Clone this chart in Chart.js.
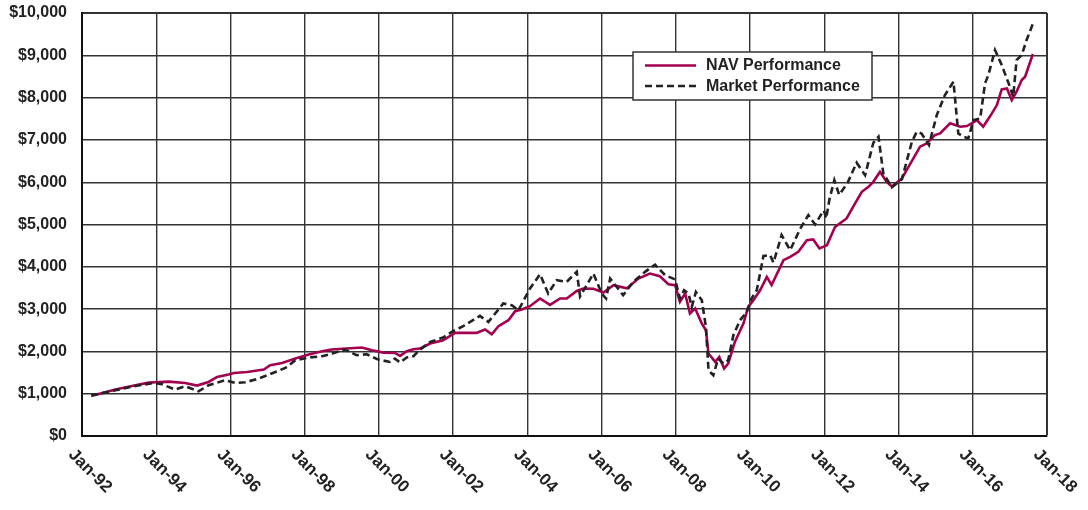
<!DOCTYPE html>
<html>
<head>
<meta charset="utf-8">
<script src="https://cdn.jsdelivr.net/npm/chart.js@4"></script>
<style>
  html, body { margin: 0; padding: 0; background: #fff; }
  canvas { display: block; }
</style>
</head>
<body>
<canvas id="c" width="1088" height="510"></canvas>
<script>
// ---- Data ----
const xTickYears = [1992,1994,1996,1998,2000,2002,2004,2006,2008,2010,2012,2014,2016,2018];
const xTickLabels = ['Jan-92','Jan-94','Jan-96','Jan-98','Jan-00','Jan-02','Jan-04','Jan-06','Jan-08','Jan-10','Jan-12','Jan-14','Jan-16','Jan-18'];
const yTickLabels = ['$0','$1,000','$2,000','$3,000','$4,000','$5,000','$6,000','$7,000','$8,000','$9,000','$10,000'];

const navDates = [1992.25,1992.90,1993.44,1993.80,1994.08,1994.34,1994.78,1995.10,1995.41,1995.64,
  1995.95,1996.09,1996.45,1996.90,1997.07,1997.39,1997.75,1998.11,1998.47,1998.72,
  1999.13,1999.54,1999.81,2000.12,2000.43,2000.57,2000.75,2000.93,2001.11,2001.38,
  2001.73,2002.05,2002.63,2002.86,2003.04,2003.22,2003.49,2003.67,2003.85,2004.07,
  2004.34,2004.61,2004.88,2005.06,2005.33,2005.51,2005.78,2006.05,2006.32,2006.68,
  2006.99,2007.30,2007.57,2007.80,2007.98,2008.11,2008.25,2008.38,2008.52,2008.70,
  2008.81,2008.88,2009.06,2009.17,2009.30,2009.41,2009.59,2009.82,2009.95,2010.09,
  2010.27,2010.45,2010.58,2010.90,2011.08,2011.30,2011.53,2011.70,2011.87,2012.07,
  2012.29,2012.60,2012.83,2013.01,2013.19,2013.32,2013.50,2013.68,2013.82,2014.09,
  2014.40,2014.58,2014.76,2014.98,2015.12,2015.39,2015.66,2015.84,2015.97,2016.11,
  2016.28,2016.47,2016.65,2016.78,2016.92,2017.05,2017.18,2017.32,2017.41,2017.62];
const navValues = [945,1097,1198,1262,1276,1286,1253,1192,1277,1396,
  1452,1490,1514,1571,1673,1727,1832,1926,2004,2044,
  2067,2091,2027,1972,1964,1893,2004,2051,2067,2186,
  2264,2437,2437,2517,2406,2595,2737,2950,2990,3068,
  3250,3100,3250,3250,3430,3486,3480,3391,3565,3490,
  3723,3841,3778,3589,3565,3170,3369,2895,3013,2659,
  2501,1949,1751,1869,1594,1712,2224,2659,3052,3210,
  3446,3762,3570,4157,4235,4353,4630,4646,4433,4511,
  4945,5143,5497,5773,5891,6009,6246,6009,5900,6088,
  6562,6839,6918,7114,7154,7391,7312,7327,7391,7469,
  7312,7563,7823,8194,8218,7942,8139,8415,8494,9030];

const mktDates = [1992.25,1992.90,1993.44,1993.93,1994.16,1994.51,1994.78,1995.14,1995.41,1995.86,
  1996.13,1996.40,1996.76,1997.21,1997.48,1997.75,1998.11,1998.47,1998.74,1999.09,
  1999.40,1999.67,1999.98,2000.30,2000.43,2000.57,2000.75,2000.93,2001.11,2001.38,
  2001.73,2001.96,2002.27,2002.72,2002.95,2003.35,2003.58,2003.76,2004.07,2004.34,
  2004.56,2004.79,2005.06,2005.33,2005.42,2005.78,2006.00,2006.12,2006.23,2006.58,
  2006.85,2007.17,2007.44,2007.71,2007.98,2008.11,2008.22,2008.34,2008.43,2008.54,
  2008.70,2008.81,2008.88,2009.01,2009.14,2009.28,2009.41,2009.55,2009.73,2009.91,
  2010.04,2010.18,2010.36,2010.54,2010.63,2010.85,2011.08,2011.35,2011.57,2011.75,
  2011.93,2011.99,2012.05,2012.14,2012.27,2012.40,2012.63,2012.87,2013.10,2013.32,
  2013.46,2013.59,2013.82,2014.09,2014.36,2014.49,2014.62,2014.82,2015.03,2015.25,
  2015.48,2015.61,2015.75,2015.88,2016.02,2016.20,2016.33,2016.42,2016.60,2016.78,
  2017.00,2017.09,2017.18,2017.32,2017.45,2017.63];
const mktValues = [961,1080,1183,1254,1223,1097,1176,1057,1199,1318,
  1254,1270,1357,1514,1609,1791,1855,1886,1949,2044,
  1909,1933,1807,1751,1831,1736,1855,1886,2044,2224,
  2328,2460,2595,2839,2697,3132,3092,2974,3486,3825,
  3368,3683,3644,3881,3300,3841,3369,3250,3723,3328,
  3644,3881,4050,3802,3700,3250,3446,3369,3052,3406,
  3210,2579,1554,1436,1831,1712,1791,2382,2737,2934,
  3250,3446,4255,4275,4100,4748,4393,4900,5221,5000,
  5261,5330,5143,5600,6049,5700,5990,6460,6167,6930,
  7075,6207,5880,6070,6956,7193,7150,6880,7587,8060,
  8375,7154,7075,7036,7469,7508,8336,8533,9124,8769,
  8257,8021,8888,9006,9361,9770];

const seriesNames = ['NAV Performance', 'Market Performance'];

// ---- Styles ----
const NAV_COLOR = '#A3004F';
const MKT_COLOR = '#222222';
const TEXT_COLOR = '#222222';
const FONT = '"Liberation Sans", Arial, Helvetica, sans-serif';

const navPoints = navDates.map((d, i) => ({ x: d, y: navValues[i] }));
const mktPoints = mktDates.map((d, i) => ({ x: d, y: mktValues[i] }));

const overlayPlugin = {
  id: 'overlay',
  afterDraw(chart) {
    const c = chart.ctx;
    const xs = chart.scales.x;
    const area = chart.chartArea;
    // rotated x tick labels
    c.save();
    c.fillStyle = TEXT_COLOR;
    c.font = 'bold 17px ' + FONT;
    c.textAlign = 'left';
    c.textBaseline = 'middle';
    xTickYears.forEach((yr, i) => {
      const px = xs.getPixelForValue(yr);
      c.save();
      c.translate(px - 11, area.bottom + 16);
      c.rotate(Math.PI / 4);
      c.fillText(xTickLabels[i], 0, 0);
      c.restore();
    });
    c.restore();

    // legend box
    c.save();
    const lx = 633, ly = 52, lw = 239, lh = 48;
    c.fillStyle = '#ffffff';
    c.fillRect(lx, ly, lw, lh);
    c.strokeStyle = '#333333';
    c.lineWidth = 1.5;
    c.strokeRect(lx, ly, lw, lh);
    c.strokeStyle = NAV_COLOR;
    c.lineWidth = 2.5;
    c.setLineDash([]);
    c.beginPath(); c.moveTo(645, 65.5); c.lineTo(696, 65.5); c.stroke();
    c.strokeStyle = MKT_COLOR;
    c.setLineDash([7, 4]);
    c.beginPath(); c.moveTo(645, 86); c.lineTo(696, 86); c.stroke();
    c.setLineDash([]);
    c.fillStyle = TEXT_COLOR;
    c.font = 'bold 16px ' + FONT;
    c.textAlign = 'left';
    c.textBaseline = 'middle';
    c.fillText(seriesNames[0], 706, 65.5);
    c.fillText(seriesNames[1], 706, 86.5);
    c.restore();
  }
};

new Chart(document.getElementById('c'), {
  type: 'line',
  data: {
    datasets: [
      {
        label: seriesNames[0],
        data: navPoints,
        borderColor: NAV_COLOR,
        borderWidth: 2.6,
        pointRadius: 0,
        tension: 0,
        fill: false,
        order: 1
      },
      {
        label: seriesNames[1],
        data: mktPoints,
        borderColor: MKT_COLOR,
        borderWidth: 2.6,
        borderDash: [7, 4],
        pointRadius: 0,
        tension: 0,
        fill: false,
        order: 0
      }
    ]
  },
  options: {
    responsive: false,
    animation: false,
    devicePixelRatio: 1,
    layout: { padding: { top: 13, right: 41, left: 0, bottom: 0 } },
    plugins: {
      legend: { display: false },
      tooltip: { enabled: false }
    },
    scales: {
      x: {
        type: 'linear',
        min: 1992,
        max: 2018,
        ticks: { stepSize: 2, display: false },
        grid: {
          color: '#333333',
          lineWidth: (ctx) => (ctx.tick && ctx.tick.value === 2018 ? 2 : 1.4),
          drawTicks: false
        },
        border: { display: true, color: '#111111', width: 2 },
        afterFit(scale) { scale.height = 74; scale.paddingLeft = 0; scale.paddingRight = 0; }
      },
      y: {
        min: 0,
        max: 10000,
        ticks: {
          stepSize: 1000,
          padding: 15,
          color: TEXT_COLOR,
          font: { family: FONT, size: 16, weight: 'bold' },
          callback: (v, i) => yTickLabels[i]
        },
        grid: {
          color: '#333333',
          lineWidth: (ctx) => (ctx.tick && ctx.tick.value === 10000 ? 2 : 1.4),
          drawTicks: false
        },
        border: { display: true, color: '#111111', width: 2 },
        afterFit(scale) { scale.width = 82; scale.paddingTop = 0; scale.paddingBottom = 0; }
      }
    }
  },
  plugins: [overlayPlugin]
});
</script>
</body>
</html>
